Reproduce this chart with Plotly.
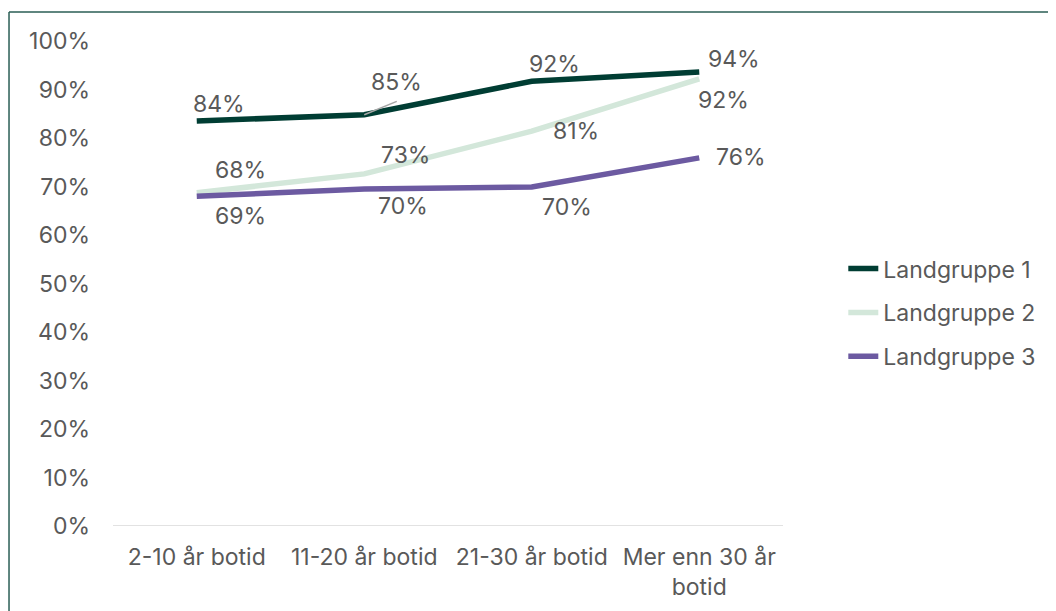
import plotly.graph_objects as go

categories = ["2-10 år botid", "11-20 år botid", "21-30 år botid", "Mer enn 30 år<br>botid"]
series_names = ["Landgruppe 1", "Landgruppe 2", "Landgruppe 3"]
landgruppe_1 = [0.835, 0.848, 0.917, 0.936]
landgruppe_2 = [0.687, 0.726, 0.814, 0.922]
landgruppe_3 = [0.680, 0.695, 0.699, 0.759]
labels_1 = ["84%", "85%", "92%", "94%"]
labels_2 = ["69%", "73%", "81%", "92%"]
labels_3 = ["68%", "70%", "70%", "76%"]

colors = ["#003d33", "#d3e7da", "#6c5aa1"]
font = "Inter, Roboto, sans-serif"
text_color = "#595959"
fsize = 23

fig = go.Figure()
for name, vals, col in zip(series_names, [landgruppe_1, landgruppe_2, landgruppe_3], colors):
    fig.add_trace(go.Scatter(x=categories, y=vals, mode="lines", name=name,
                             legendgroup=name,
                             line=dict(color=col, width=5.5)))

# data label offsets (pixels) per series/point
offsets_1 = [(22, 17), (32, 33), (23, 17), (35, 13)]
offsets_2 = [(44, -23), (41, 19), (44, 0), (24, -21)]
offsets_3 = [(44, 26), (39, -17), (35, -20), (42, 1)]

for vals, labs, offs in [(landgruppe_1, labels_1, offsets_1),
                         (landgruppe_2, labels_2, offsets_2),
                         (landgruppe_3, labels_3, offsets_3)]:
    for c, v, t, (dx, dy) in zip(categories, vals, labs, offs):
        fig.add_annotation(x=c, y=v, text=t, showarrow=False,
                           xshift=dx, yshift=dy,
                           font=dict(family=font, size=fsize, color=text_color))

# leader line for 85 %
fig.add_annotation(x=categories[1], y=landgruppe_1[1], ax=34, ay=-14,
                   text="", showarrow=True, arrowhead=0, arrowwidth=1.5,
                   arrowcolor="#a6a6a6", standoff=0)

# outer frame (top and left edge)
fig.add_shape(type="line", xref="paper", yref="paper",
              x0=-0.1552, x1=1.45, y0=1.0598, y1=1.0598,
              line=dict(color="#2a5e55", width=1.5))
fig.add_shape(type="line", xref="paper", yref="paper",
              x0=-0.1552, x1=-0.1552, y0=1.0598, y1=-0.25,
              line=dict(color="#2a5e55", width=1.5))

fig.update_layout(
    width=1056, height=611,
    margin=dict(l=105, r=281, t=33, b=93),
    paper_bgcolor="white", plot_bgcolor="white",
    font=dict(family=font, size=fsize, color=text_color),
    showlegend=True,
    legend=dict(x=1.09, y=0.44, xanchor="left", yanchor="middle",
                font=dict(size=fsize, color=text_color),
                tracegroupgap=11, bgcolor="rgba(0,0,0,0)"),
    xaxis=dict(range=[-0.5, 3.5], showgrid=False, zeroline=False,
               showline=False, ticks="", ticklabelstandoff=15,
               tickfont=dict(size=fsize)),
    yaxis=dict(range=[0, 1], tickformat=".0%", dtick=0.1, showgrid=False,
               zeroline=False, showline=False, ticks="",
               ticklabelstandoff=22, tickfont=dict(size=fsize)),
)
fig.add_hline(y=0, line=dict(color="#d9d9d9", width=1.5))

fig.write_html("out.html")
